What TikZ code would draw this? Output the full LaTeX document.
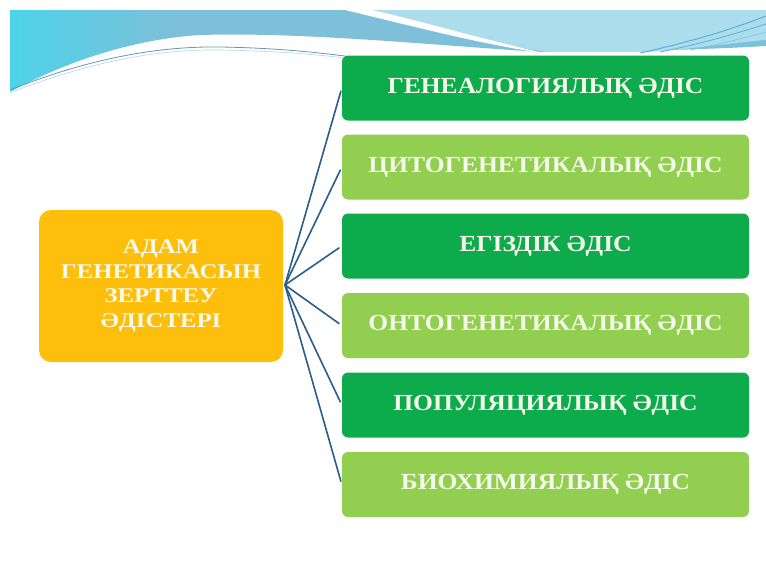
\documentclass[tikz,border=0pt]{standalone}
\usepackage{fontspec}
\setmainfont{Liberation Serif}
\newfontfamily\hubfont[FakeStretch=1.18]{Liberation Serif}
\newfontfamily\boxfont[FakeStretch=1.11]{Liberation Serif}
\begin{document}
\begin{tikzpicture}[x=1pt,y=-1pt]
\definecolor{dkgreen}{HTML}{0EAB4D}
\definecolor{ltgreen}{HTML}{92CF50}
\definecolor{orng}{HTML}{FDBE0C}
\definecolor{txt}{HTML}{F4F9EA}
\definecolor{conn}{HTML}{2B5C8C}
\definecolor{bandL}{HTML}{4DD3E8}
\definecolor{bandM}{HTML}{7EBFD9}
\definecolor{bandR}{HTML}{ABDDEC}
\definecolor{streak}{HTML}{5FB0D8}
\pgfdeclarehorizontalshading{bandshade}{100bp}{color(0bp)=(bandL); color(25bp)=(bandL); color(36bp)=(bandM); color(100bp)=(bandM)}
\tikzset{
  mbox/.style={rounded corners=6pt, minimum width=407pt, minimum height=65pt,
    text=txt, font=\boxfont\bfseries\fontsize{23}{23}\selectfont, inner sep=0pt},
  hubbox/.style={rounded corners=12pt, minimum width=244pt, minimum height=152pt,
    fill=orng, text=txt, align=center, font=\hubfont\bfseries\fontsize{21}{24.5}\selectfont, inner sep=0pt},
  link/.style={draw=conn, line width=1.6pt, shorten >=3pt}
}
\useasboundingbox (0,0) rectangle (766,562);
\fill[white] (0,0) rectangle (766,562);
% header band
\shade[shading=bandshade]
  (10,10) -- (766,10) -- (766,46) .. controls (700,50) and (600,52) .. (540,52)
  .. controls (420,44) and (300,32) .. (200,35) .. controls (120,40) and (50,70) .. (10,92) -- cycle;
\fill[bandR] (360,10) .. controls (430,28) and (490,44) .. (548,52)
  -- (650,52) .. controls (700,48) and (740,42) .. (766,40) -- (766,10) -- cycle;
\fill[white] (345,10) .. controls (420,28) and (480,44) .. (548,54)
  .. controls (485,40) and (425,22) .. (372,10) -- cycle;
\draw[streak, line width=1pt] (640,53) .. controls (690,42) and (730,30) .. (766,16);
\draw[streak, line width=0.8pt] (660,52) .. controls (700,44) and (735,34) .. (766,24);
\draw[streak!80!white, line width=0.6pt] (690,50) .. controls (720,44) and (745,38) .. (766,32);
\draw[bandM!80!black, line width=0.8pt] (10,90) .. controls (80,62) and (150,46) .. (220,47)
  .. controls (280,48) and (320,53) .. (345,56);
\draw[bandM!60!white, line width=0.6pt] (12,92) .. controls (82,65) and (150,49) .. (220,50)
  .. controls (280,51) and (320,55) .. (345,58);
% nodes
\node[hubbox] (main) at (161,286) {АДАМ\\ГЕНЕТИКАСЫН\\ЗЕРТТЕУ\\ӘДІСТЕРІ};
\coordinate (hub) at (285,285);
\node[mbox, fill=dkgreen] (b1) at (545.5,88) {ГЕНЕАЛОГИЯЛЫҚ ӘДІС};
\node[mbox, fill=ltgreen] (b2) at (545.5,167) {ЦИТОГЕНЕТИКАЛЫҚ ӘДІС};
\node[mbox, fill=dkgreen] (b3) at (545.5,246) {ЕГІЗДІК ӘДІС};
\node[mbox, fill=ltgreen] (b4) at (545.5,325.5) {ОНТОГЕНЕТИКАЛЫҚ ӘДІС};
\node[mbox, fill=dkgreen] (b5) at (545.5,405) {ПОПУЛЯЦИЯЛЫҚ ӘДІС};
\node[mbox, fill=ltgreen] (b6) at (545.5,484.5) {БИОХИМИЯЛЫҚ ӘДІС};
\foreach \b in {b1,b2,b3,b4,b5,b6} \draw[link] (hub) -- (\b.west);
\end{tikzpicture}
\end{document}
